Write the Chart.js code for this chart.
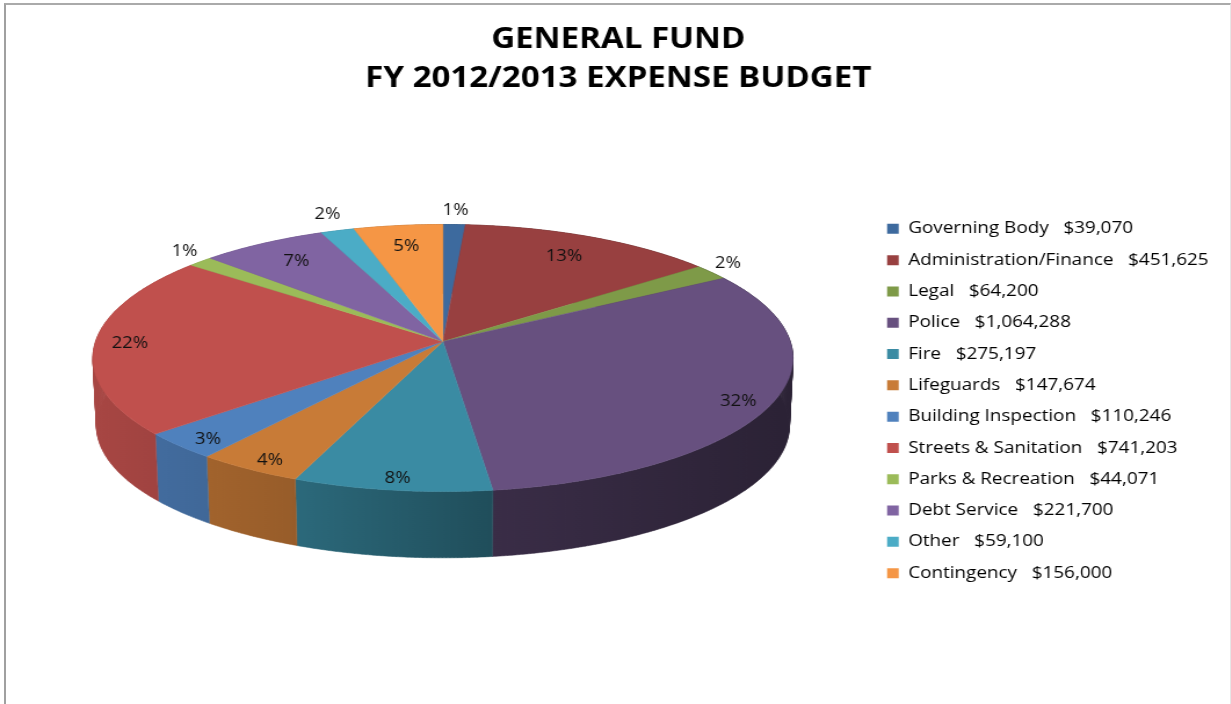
<!DOCTYPE html>
<html>
<head>
<meta charset="utf-8">
<title>General Fund Expense Budget</title>
<script src="https://cdn.jsdelivr.net/npm/chart.js@4/dist/chart.umd.min.js"></script>
<style>
    html, body { margin: 0; padding: 0; background: #fff; overflow: hidden; }
    #wrap { position: relative; width: 1231px; height: 704px; overflow: hidden; }
    #frame {
        position: absolute; left: 4px; top: 3px; right: 0; bottom: 0;
        border-top: 2px solid #aaa; border-left: 2px solid #a0a0a0; border-right: 1px solid #e6e6e6;
    }
    /* the sheet is pasted wide, so the whole drawing is stretched sideways */
    #budget { position: absolute; left: 0; top: 0; transform-origin: 0 0; transform: scaleX(1.16); }
</style>
</head>
<body>
<div id="wrap">
    <div id="frame"></div>
    <canvas id="budget" width="1061" height="704"></canvas>
</div>
<script>
const titleLines = ["GENERAL FUND", "FY 2012/2013 EXPENSE BUDGET"];
const categories = [
    "Governing Body", "Administration/Finance", "Legal", "Police", "Fire", "Lifeguards",
    "Building Inspection", "Streets & Sanitation", "Parks & Recreation", "Debt Service", "Other", "Contingency"
];
const budget = [39070, 451625, 64200, 1064288, 275197, 147674, 110246, 741203, 44071, 221700, 59100, 156000];
const sliceColors = [
    "#3d6a9e", "#984040", "#7e9a48", "#67507f", "#3a8ba3", "#c87b37",
    "#4f81bd", "#c0504d", "#9bbb59", "#8064a2", "#4bacc6", "#f59645"
];

// disc seen in perspective: half width, half height and how much the near edge grows
const RX = 299.4;
const RY = 131.5;
const PERSPECTIVE = -0.1236;
const DEPTH = 68;
const BASE_SCALE = 0.99;
const APEX_SHIFT = { x: -0.1, y: -69.5 };
const LEGEND_SHIFT = { x: -9.1, y: 49 };

// wall shading from left to right across the disc
const wallShade = [[0, 0.87], [0.28, 0.76], [0.57, 0.56], [1, 0.42]];

function project(cx, cy, u, v) {
    const w = 1 + PERSPECTIVE * v;
    return { x: cx + RX * u / w, y: cy + RY * v / w };
}

function shadeColor(hex, f) {
    const n = parseInt(hex.slice(1), 16);
    const r = Math.round((n >> 16 & 255) * f);
    const g = Math.round((n >> 8 & 255) * f);
    const b = Math.round((n & 255) * f);
    return `rgb(${r},${g},${b})`;
}

function rimAngles(start, end) {
    const steps = Math.max(2, Math.ceil((end - start) / 0.01));
    const out = [];
    for (let i = 0; i <= steps; i++) out.push(start + (end - start) * i / steps);
    return out;
}

const tiltedPie = {
    id: "tiltedPie",
    afterLayout(chart) {
        const legend = chart.legend;
        legend.left += LEGEND_SHIFT.x;
        legend.right += LEGEND_SHIFT.x;
        legend.top += LEGEND_SHIFT.y;
        legend.bottom += LEGEND_SHIFT.y;
    },
    beforeDatasetDraw(chart, args) {
        const ctx = chart.ctx;
        const arcs = args.meta.data;
        const total = budget.reduce((a, b) => a + b, 0);
        const cx = arcs[0].x + APEX_SHIFT.x;
        const cy = arcs[0].y + APEX_SHIFT.y;

        // side wall first: every strip joins one path so the silhouette follows the extrusion
        arcs.forEach((arc, i) => {
            const angles = rimAngles(arc.startAngle, arc.endAngle);
            const grad = ctx.createLinearGradient(cx - RX, 0, cx + RX, 0);
            wallShade.forEach(s => grad.addColorStop(s[0], shadeColor(sliceColors[i], s[1])));
            ctx.beginPath();
            for (let k = 0; k < angles.length - 1; k++) {
                const a = angles[k], b = angles[k + 1];
                const p1 = project(cx, cy, Math.cos(a), Math.sin(a));
                const p2 = project(cx, cy, Math.cos(b), Math.sin(b));
                const p3 = project(cx, cy + DEPTH, BASE_SCALE * Math.cos(b), BASE_SCALE * Math.sin(b));
                const p4 = project(cx, cy + DEPTH, BASE_SCALE * Math.cos(a), BASE_SCALE * Math.sin(a));
                ctx.moveTo(p1.x, p1.y);
                ctx.lineTo(p2.x, p2.y);
                ctx.lineTo(p3.x, p3.y);
                ctx.lineTo(p4.x, p4.y);
                ctx.closePath();
            }
            ctx.fillStyle = grad;
            ctx.strokeStyle = grad;
            ctx.lineWidth = 0.5;
            ctx.fill();
            ctx.stroke();
        });

        // top face
        arcs.forEach((arc, i) => {
            ctx.beginPath();
            ctx.moveTo(cx, cy);
            rimAngles(arc.startAngle, arc.endAngle).forEach(a => {
                const p = project(cx, cy, Math.cos(a), Math.sin(a));
                ctx.lineTo(p.x, p.y);
            });
            ctx.closePath();
            ctx.fillStyle = sliceColors[i];
            ctx.strokeStyle = sliceColors[i];
            ctx.lineWidth = 0.5;
            ctx.fill();
            ctx.stroke();
        });

        // percentage labels, thin slices get theirs outside the rim
        ctx.font = "16px 'Open Sans'";
        ctx.fillStyle = "#111";
        ctx.textAlign = "center";
        ctx.textBaseline = "middle";
        arcs.forEach((arc, i) => {
            const mid = (arc.startAngle + arc.endAngle) / 2;
            const share = budget[i] / total;
            const u = Math.cos(mid), v = Math.sin(mid);
            let f = v < -0.02 ? 0.8 : 0.9;
            let lift = v > 0.2 ? 5 : 0;
            if (share < 0.025) {
                f = 1.14 - 0.09 * Math.abs(u);
                lift = Math.abs(u) > 0.2 ? -5 : 0;
            }
            const p = project(cx, cy, f * u, f * v);
            ctx.fillText(Math.round(share * 100) + "%", p.x, p.y + lift);
        });
        return false;
    }
};

new Chart(document.getElementById("budget"), {
    type: "pie",
    plugins: [tiltedPie],
    data: {
        labels: categories,
        datasets: [{ data: budget, backgroundColor: sliceColors, borderWidth: 0 }]
    },
    options: {
        responsive: false,
        animation: false,
        layout: { padding: { left: 5, right: 0, top: 0, bottom: 0 } },
        plugins: {
            tooltip: { enabled: false },
            title: {
                display: true,
                text: titleLines,
                color: "#000",
                font: { family: "'Open Sans'", size: 28.5, weight: "bold", lineHeight: 1.36 },
                padding: { top: 20.5, bottom: 20 }
            },
            legend: {
                position: "right",
                labels: {
                    color: "#111",
                    font: { family: "'Open Sans'", size: 16.3 },
                    boxWidth: 10,
                    boxHeight: 10,
                    padding: 15,
                    generateLabels() {
                        return categories.map((name, i) => ({
                            text: `${name}   $${budget[i].toLocaleString("en-US")}`,
                            fillStyle: sliceColors[i],
                            strokeStyle: sliceColors[i],
                            lineWidth: 0,
                            index: i
                        }));
                    }
                }
            }
        }
    }
});
</script>
</body>
</html>
